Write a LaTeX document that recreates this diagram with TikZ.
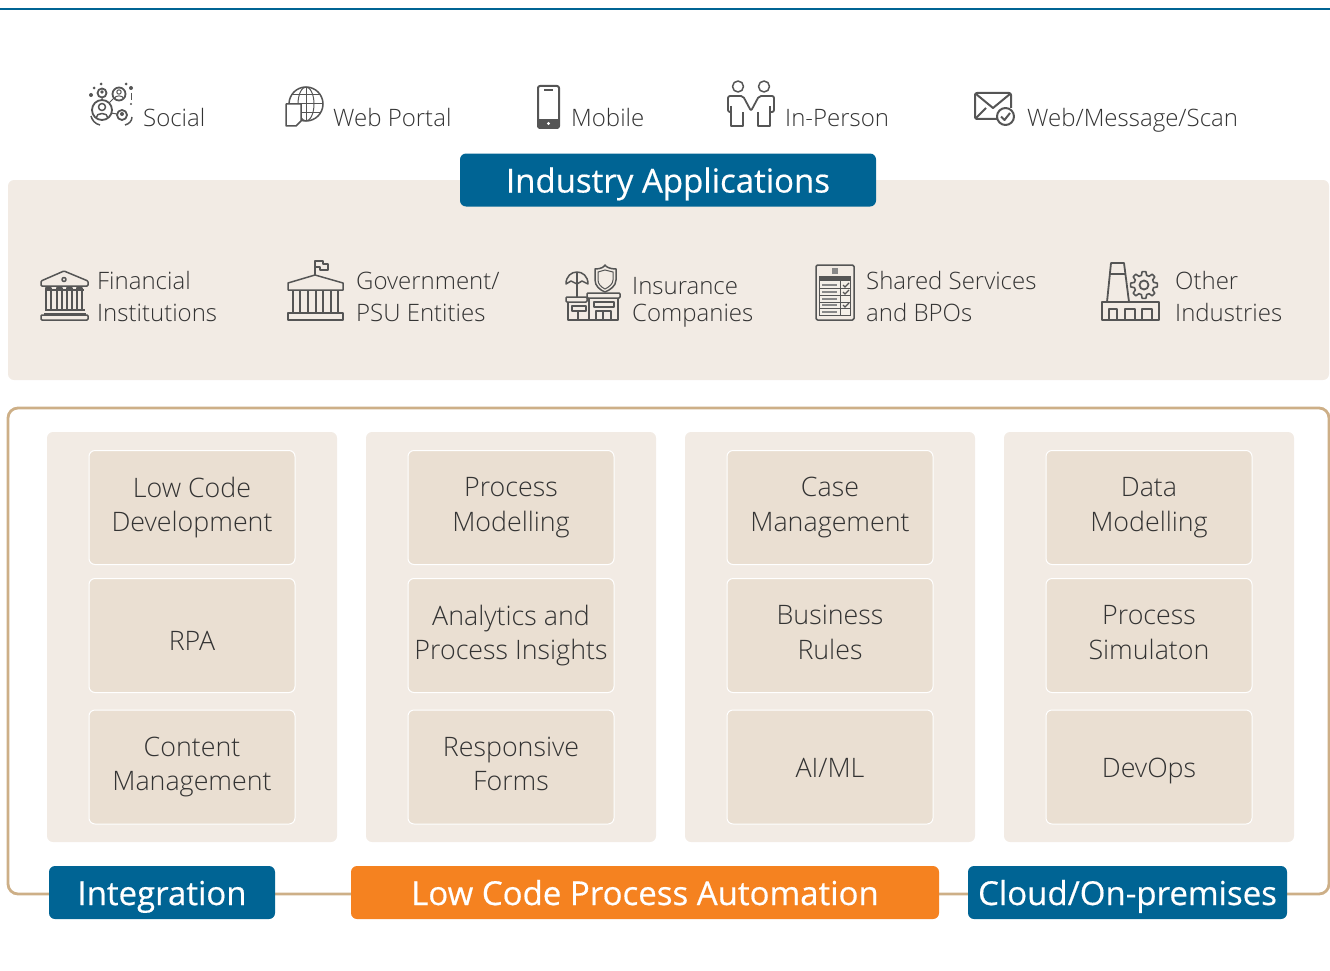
\documentclass[tikz,border=0pt]{standalone}
\usepackage{fontspec}
\setmainfont{Open Sans}[UprightFont=* Light,BoldFont=*]
\newfontfamily\labelfont{Open Sans}[FakeBold=0.5,UprightFeatures={FakeBold=0.5}]
\usepackage{xcolor}
\definecolor{blueband}{HTML}{006494}
\definecolor{orangeband}{HTML}{F58220}
\definecolor{tanline}{HTML}{CDAF87}
\definecolor{panelbg}{HTML}{F2EBE4}
\definecolor{boxbg}{HTML}{EADFD2}
\definecolor{icongray}{HTML}{555555}
\definecolor{textgray}{HTML}{333333}
\tikzset{
  band/.style={fill=blueband,rounded corners=6,text=white,font=\labelfont\fontsize{33}{36}\selectfont,minimum height=53,inner sep=0,text height=25,text depth=0},
  panel/.style={fill=panelbg,rounded corners=6},
  toolbox/.style={fill=boxbg,draw=white,line width=1,rounded corners=6,minimum width=206,minimum height=114,inner sep=0,align=center,text=textgray,font=\fontsize{26.8}{34.5}\selectfont,
    execute at begin node={\rule{0pt}{27pt}},execute at end node={\rule[-6.5pt]{0pt}{1pt}}},
  toplabel/.style={anchor=base west,inner sep=0,text=textgray,font=\fontsize{24}{32}\selectfont},
  sidelabel/.style={anchor=base west,inner sep=0,text=textgray,font=\fontsize{24}{32}\selectfont,align=left},
  icon/.style={draw=icongray,line width=1.5,line join=round},
  thinicon/.style={draw=icongray,line width=1}
}
\begin{document}
\begin{tikzpicture}[x=1pt,y=-1pt]
\useasboundingbox (0,0) rectangle (1330,971);
\draw [blueband, line width=2] (0,9.5)--(1330,9.5);
% upper panel
\fill [panel] (8,180) rectangle (1329,380);
\node [band, minimum width=416] (apps) at (668,180) {Industry Applications};
% channels
\node [toplabel] (social) at (143,126.5) {Social};
\node [toplabel] (webportal) at (333,126.5) {Web Portal};
\node [toplabel] (mobile) at (571,126.5) {Mobile};
\node [toplabel] (inperson) at (785,126.5) {In-Person};
\node [toplabel] (webmsg) at (1027,126.5) {Web/Message/Scan};
% social icon
\draw [icon, line width=1.8] (102,110) circle (10);
\draw [icon, line width=1.8] (119,94) circle (6.5);
\draw [icon, line width=1.8] (102,93) circle (4.5);
\draw [icon, line width=1.8] (122,115) circle (5);
\draw [icon] (96,118)..controls (96,112) and (108,112)..(108,118);
\draw [icon] (102,107) circle (3.5);
\draw [icon, line width=1] (119,92) circle (2.2) (114.5,98.5)..controls (115,95) and (123,95)..(123.5,98.5);
\fill [icongray] (102,92) circle (1.8) (122,114) circle (2) (119,122) circle (0);
\draw [thinicon] (109,103)--(114,98) (111,113)--(117,114) (102,97.5)--(102,100);
\draw [icon] (91,116)..controls (92,120) and (95,124)..(100,125);
\draw [icon] (132,117)..controls (132,121) and (129,124)..(125,125);
\fill [icongray] (91,95) circle (2) (94,88) circle (1.5) (101,84) circle (1.5) (126,84) circle (1.5) (131,88) circle (2) (131,104) circle (1.2);
\draw [thinicon] (131,93)--(131,100);
% web portal icon
\draw [icon] (306,104) circle (17);
\draw [thinicon] (306,104) ellipse (8 and 17);
\draw [thinicon] (306,87)--(306,121) (289,104)--(323,104) (292,95)--(320,95) (292,113)--(320,113);
\draw [icon, fill=white] (286,104)--(301,104)--(301,121)--(296,126)--(286,126)--cycle;
% mobile icon
\draw [icon, line width=2, rounded corners=2] (538,86) rectangle (559,128);
\fill [icongray] (538,119) rectangle (559,128);
\draw [icon] (544,90)--(553,90);
\fill [white] (548.5,123.5) circle (1.7);
% in-person icon
\draw [icon] (738,86.5) circle (5.5);
\draw [icon] (764,86.5) circle (5.5);
\draw [icon, line width=1.8, rounded corners=2] (731,112)--(728,112)--(728,96)--(743,96)--(751,111)--(759,96)--(774,96)--(774,112)--(770,112);
\draw [icon, line width=1.8] (731,106)--(731,126)--(743,126)--(743,112) (758,112)--(758,126)--(770,126)--(770,106);
% envelope icon
\draw [icon, line width=2, rounded corners=2] (998,119)--(975,119)--(975,93)--(1011,93)--(1011,108);
\draw [icon, line width=2] (976,94)--(993,108)--(1010,94) (976,118)--(986,108);
\draw [icon, line width=2, fill=white] (1005.5,116.5) circle (8.5);
\draw [icon, line width=2] (1001,116.5)--(1004.5,120)--(1010,113);
% industries
\node [sidelabel] (financial) at (97,289.5) {Financial};
\node [sidelabel] (institutions) at (97,321.5) {Institutions};
\node [sidelabel] (government) at (356,289.5) {Government/};
\node [sidelabel] (psu) at (356,321.5) {PSU Entities};
\node [sidelabel] (insurance) at (632,294.5) {Insurance};
\node [sidelabel] (companies) at (632,321.5) {Companies};
\node [sidelabel] (shared) at (866,289.5) {Shared Services};
\node [sidelabel] (bpos) at (866,321.5) {and BPOs};
\node [sidelabel] (other) at (1175,289.5) {Other};
\node [sidelabel] (industries) at (1175,321.5) {Industries};
% bank icon
\draw [icon, rounded corners=1] (41,286)--(41,281)--(64,271)--(88,281)--(88,286)--cycle;
\draw [icon] (64,279.5) circle (2);
\draw [icon] (46,288) rectangle (51,310) (57,288) rectangle (62,310) (67,288) rectangle (72,310) (77,288) rectangle (82,310);
\draw [icon] (45,290)--(84,290) (45,310)--(85,310) (44,314)--(86,314);
\draw [icon, rounded corners=1] (41,315) rectangle (88,320);
% government icon
\draw [icon] (315,275)--(315,261)--(323,261)--(323,264)--(328,264)--(328,270)--(320,270)--(320,267)--(315,267);
\draw [icon] (315,275)--(343,283)--(343,290)--(288,290)--(288,283)--cycle;
\draw [icon, line width=1.8] (293,290)--(293,313) (300,290)--(300,313) (308,290)--(308,313) (316,290)--(316,313) (323,290)--(323,313) (331,290)--(331,313) (338,290)--(338,313);
\draw [icon, line width=1.8] (288,313) rectangle (343,320);
% insurance icon
\draw [icon] (566,284)..controls (566,268) and (588,268)..(588,284)--(582,281)--(577,284)--(571,281)--cycle;
\draw [icon] (577,272)--(577,298);
\draw [icon] (595,269)..controls (601,269) and (604,267)..(605,265)..controls (606,267) and (610,269)..(616,269)--(616,280)..controls (616,286) and (610,290)..(605,292)..controls (600,290) and (595,286)..(595,280)--cycle;
\draw [thinicon] (598,272)--(605,270)--(613,272)--(613,280)..controls (613,284) and (609,287)..(605,289)..controls (601,287) and (598,284)..(598,280)--cycle;
\draw [icon, rounded corners=1] (587,293) rectangle (620,298);
\draw [icon, rounded corners=1] (566,297) rectangle (587,302);
\draw [icon] (568,302)--(568,320)--(618,320)--(618,298) (589,298)--(589,320);
\draw [icon] (572,306) rectangle (586,311) (594,302) rectangle (614,307);
\draw [icon] (578,311)--(578,320) (596,311) rectangle (611,320) (603,311)--(603,320);
% checklist icon
\draw [icon, fill=panelbg, rounded corners=1.5] (816,265) rectangle (854,320);
\fill [icongray!70] (832,268) rectangle (838,274);
\draw [thinicon, fill=boxbg!50] (819,276) rectangle (850,315);
\fill [icongray] (819,276) rectangle (850,281);
\draw [thinicon] (819,288)--(850,288) (819,295)--(850,295) (819,302)--(850,302) (819,308)--(850,308) (840,281)--(840,315);
\draw [thinicon, icongray!70, line width=1.3] (822,285)--(837,285) (822,292)--(837,292) (822,299)--(837,299) (822,305)--(837,305) (822,312)--(837,312);
\draw [thinicon, line width=1.3] (843,285)--(845,287)--(849,283) (843,292)--(845,294)--(849,290) (843,305)--(845,307)--(849,303);
% factory icon
\draw [icon, line width=1.8] (1107,302)--(1111,263)--(1124,263)--(1129,302) (1109.5,274)--(1125.5,274);
\draw [icon, line width=1.8] (1102,302) rectangle (1159,320);
\draw [icon, line width=1.8] (1109,319)--(1109,309)--(1117,309)--(1117,319) (1125,319)--(1125,309)--(1135,309)--(1135,319) (1142,319)--(1142,309)--(1152,309)--(1152,319);
\begin{scope}[shift={(1144,285)}]
\draw [icon, line width=1.6] (-15:10)--(-8:13.5)--(8:13.5)--(15:10)--(30:10)--(37:13.5)--(53:13.5)--(60:10)--(75:10)--(82:13.5)--(98:13.5)--(105:10)--(120:10)--(127:13.5)--(143:13.5)--(150:10)--(165:10)--(172:13.5)--(188:13.5)--(195:10)--(210:10)--(217:13.5)--(233:13.5)--(240:10)--(255:10)--(262:13.5)--(278:13.5)--(285:10)--(300:10)--(307:13.5)--(323:13.5)--(330:10)--cycle;
\draw [icon, line width=1.8] (0,0) circle (4.5);
\end{scope}
% lower frame
\draw [tanline, line width=2.8, rounded corners=10] (8,408) rectangle (1329,894);
\fill [panel] (47,432) rectangle (337,842);
\fill [panel] (366,432) rectangle (656,842);
\fill [panel] (685,432) rectangle (975,842);
\fill [panel] (1004,432) rectangle (1294,842);
\node [toolbox] (lowcode) at (192,507.5) {Low Code\\Development};
\node [toolbox] (rpa) at (192,635.5) {\raisebox{-5pt}{RPA}};
\node [toolbox] (content) at (192,767) {Content\\Management};
\node [toolbox] (procmodel) at (511,507.5) {Process\\Modelling};
\node [toolbox] (analytics) at (511,635.5) {Analytics and\\Process Insights};
\node [toolbox] (forms) at (511,767) {Responsive\\Forms};
\node [toolbox] (casemgmt) at (830,507.5) {Case\\Management};
\node [toolbox] (rules) at (830,635.5) {Business\\Rules};
\node [toolbox] (aiml) at (830,767) {AI/ML};
\node [toolbox] (datamodel) at (1149,507.5) {Data\\Modelling};
\node [toolbox] (simulation) at (1149,635.5) {Process\\Simulaton};
\node [toolbox] (devops) at (1149,767) {DevOps};
% bottom bands
\node [band, minimum width=226] (integration) at (162,892.5) {Integration};
\node [band, fill=orangeband, minimum width=588] (lowcodeauto) at (645,892.5) {Low Code Process Automation};
\node [band, minimum width=319] (cloud) at (1127.5,892.5) {Cloud/On-premises};
\end{tikzpicture}
\end{document}
